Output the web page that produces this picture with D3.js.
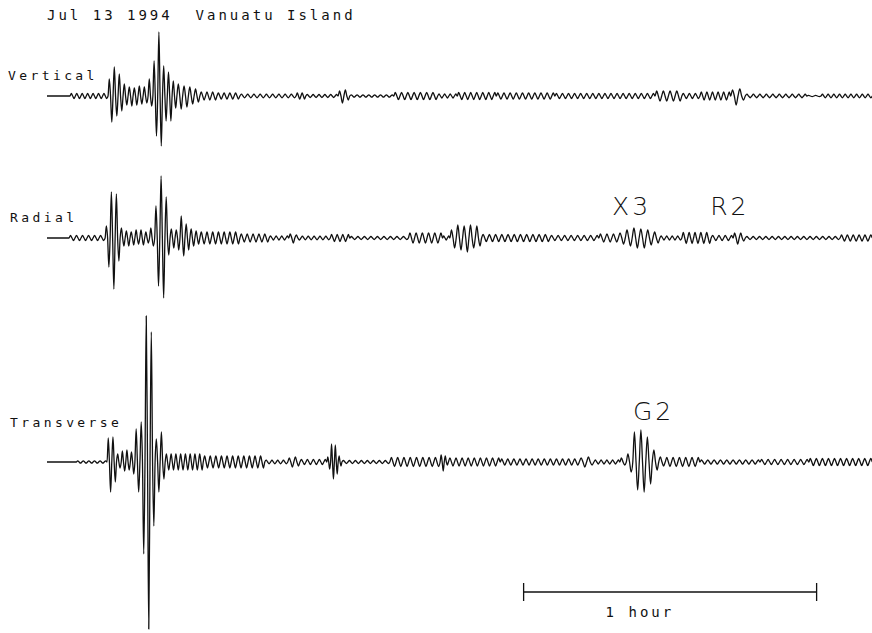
<!DOCTYPE html>
<html>
<head>
<meta charset="utf-8">
<script src="https://cdn.jsdelivr.net/npm/d3@7/dist/d3.min.js"></script>
<style>
body { margin: 0; background: #fff; }
text { fill: #111; }
.lbl { font-family: "DejaVu Sans Mono", monospace; font-size: 13px; letter-spacing: 3.4px; }
.big { font-family: "DejaVu Sans Mono", monospace; font-size: 14px; letter-spacing: 3.0px; }
.phase { font-family: "DejaVu Sans", sans-serif; font-weight: 200; font-size: 25px; letter-spacing: 3px; }
.trace { fill: none; stroke: #111; stroke-width: 1.3; stroke-linejoin: round; }
</style>
</head>
<body>
<div id="chart"></div>
<script>
// time in minutes after trace start, amplitude in plot units
// [start, end, amplitude, period] = steady wiggle, [start, end, [peaks]] = picked peaks
var components = ["Vertical", "Radial", "Transverse"];

var vertical = [
    [0, 4.7, 0, 1],
    [4.7, 12.5, 2.5, 1.1],
    [12.5, 16.6, [17, -26, 29, -20, 22, -15, 12, -9]],
    [16.6, 20.7, [9, -10, 8, -9, 10, -8, 9, -7]],
    [20.7, 26.6, [17, -10, 35, -40, 64, -50, 30, -25, 24, -25, 15, -12]],
    [26.6, 31.3, [12, -13, 10, -11, 9, -8, 7, -6]],
    [31.3, 34.8, 4, 1.1],
    [34.8, 39.5, 3, 1.2],
    [39.5, 51.0, 1.8, 1.25],
    [51.0, 53.0, 3, 1.0],
    [53.0, 59.6, 1.5, 1.2],
    [59.6, 62.0, [5, -7, 6, -4]],
    [62.0, 71.0, 1.2, 1.2],
    [71.0, 80.0, 3.5, 1.25],
    [80.0, 84.0, 2, 1.2],
    [84.0, 92.0, 3.5, 1.25],
    [92.0, 104.0, 3, 1.25],
    [104.0, 124.5, 2.5, 1.25],
    [124.5, 130.0, 5, 1.3],
    [130.0, 133.7, 2.5, 1.2],
    [133.7, 140.0, 4, 1.2],
    [140.0, 143.0, [6, -9, 7, -4]],
    [143.0, 155.6, 1.8, 1.3],
    [155.6, 158.5, 0.6, 1.3],
    [158.5, 169, 1.8, 1.2]
];

var radial = [
    [0, 4.5, 0, 1],
    [4.5, 11.9, 2.5, 1.2],
    [11.9, 16.0, [12, -29, 46, -51, 44, -23, 10, -8]],
    [16.0, 21.0, [7, -8, 6, -7, 8, -6, 8, -7, 6, -5]],
    [21.0, 25.2, [10, -8, 32, -48, 62, -60, 41, -17]],
    [25.2, 31.3, [9, -10, 8, -12, 22, -18, 14, -12, 9, -8, 7, -6]],
    [31.3, 39.5, 6, 1.15],
    [39.5, 45.5, 4, 1.25],
    [45.5, 49.5, 2, 1.2],
    [49.5, 52.0, [4, -5, 3, -2]],
    [52.0, 58.0, 1.8, 1.25],
    [58.0, 62.0, 3.5, 1.2],
    [62.0, 74.0, 1.5, 1.3],
    [74.0, 81.0, 5, 1.3],
    [81.0, 82.5, 2, 1.2],
    [82.5, 89.0, [8, -10, 13, -12, 12, -14, 13, -10, 12, -8]],
    [89.0, 103.0, 3.5, 1.3],
    [103.0, 113.0, 2.5, 1.3],
    [113.0, 117.0, 4, 1.3],
    [117.0, 125.5, [5, -6, 8, -8, 10, -10, 9, -10, 8, -7, 6, -5]],
    [125.5, 130.0, 2, 1.2],
    [130.0, 136.0, 5.5, 1.2],
    [136.0, 140.5, 2.5, 1.25],
    [140.5, 143.0, [5, -6, 5, -3]],
    [143.0, 162.4, 1.5, 1.3],
    [162.4, 169, 3, 1.2]
];

var transverse = [
    [0, 6.0, 0, 1],
    [6.0, 12.3, 1.2, 1.1],
    [12.3, 15.2, [24, -30, 25, -20, 8, -6]],
    [15.2, 18.0, [11, -9, 12, -8, 10, -12]],
    [18.0, 24.2, [33, -30, 40, -92, 146, -167, 130, -64, 23, -30, 30, -17]],
    [24.2, 32.0, 8, 1.0],
    [32.0, 44.6, 6, 1.15],
    [44.6, 49.3, 1.8, 1.2],
    [49.3, 51.8, [4, -5, 5, -4]],
    [51.8, 57.3, 2.5, 1.2],
    [57.3, 60.4, [5, -7, 18, -17, 17, -12, 6, -4]],
    [60.4, 70.2, 1.5, 1.2],
    [70.2, 80.5, 4.5, 1.25],
    [80.5, 82.2, [7, -9, 6, -3]],
    [82.2, 92.8, 4, 1.25],
    [92.8, 109.0, 3, 1.25],
    [109.0, 112.0, [4, -5, 5, -3]],
    [112.0, 117.3, 2, 1.2],
    [117.3, 126.6, [4, -3, 8, -10, 30, -28, 32, -30, 25, -22, 12, -8, 5, -4]],
    [126.6, 133.7, 4.5, 1.25],
    [133.7, 146.0, 2, 1.3],
    [146.0, 156.0, 2.5, 1.3],
    [156.0, 169, 3.5, 1.25]
];

var phaseNames = ["X3", "R2", "G2"];
var phaseTimes = [115.7, 135.8, 120.0];   // minutes, where the label starts
var phaseTrace = [1, 1, 2];
var scaleBar = [97.6, 157.6];            // one hour
var title = "Jul 13 1994  Vanuatu Island";

var width = 872, height = 633;
var x0 = 47;
var baseY = [96, 238, 462];
var labelY = [80, 222, 427];
var labelX = [8, 10, 10];
var phaseY = [215, 215, 420];

var svg = d3.select("#chart").append("svg")
    .attr("width", width)
    .attr("height", height);

// 1 hour = 293 px
var x = d3.scaleLinear()
    .domain([0, 60])
    .range([x0, x0 + 293]);

function buildPoints(segs) {
    var pts = [];
    segs.forEach(function(s) {
        var t0 = s[0], t1 = s[1], peaks;
        if (Array.isArray(s[2])) {
            peaks = s[2];
        } else {
            var n = Math.max(1, Math.round(2 * (t1 - t0) / s[3]));
            peaks = d3.range(n).map(function(i) { return i % 2 ? -s[2] : s[2]; });
        }
        var h = (t1 - t0) / peaks.length;
        peaks.forEach(function(v, i) {
            pts.push([t0 + i * h, 0]);
            pts.push([t0 + (i + 0.5) * h, v]);
        });
    });
    pts.push([segs[segs.length - 1][1], 0]);
    return pts;
}

var data = [vertical, radial, transverse];

data.forEach(function(segs, k) {
    var y = d3.scaleLinear()
        .domain([-100, 100])
        .range([baseY[k] + 100, baseY[k] - 100]);

    var line = d3.line()
        .x(function(d) { return x(d[0]); })
        .y(function(d) { return y(d[1]); })
        .curve(d3.curveMonotoneX);

    svg.append("path")
        .datum(buildPoints(segs))
        .attr("class", "trace")
        .attr("d", line);

    svg.append("text")
        .attr("class", "lbl")
        .attr("x", labelX[k])
        .attr("y", labelY[k])
        .text(components[k]);
});

// title
svg.append("text")
    .attr("class", "big")
    .attr("x", x0)
    .attr("y", 20)
    .attr("xml:space", "preserve")
    .style("white-space", "pre")
    .text(title);

// phase labels
phaseNames.forEach(function(p, i) {
    svg.append("text")
        .attr("class", "phase")
        .attr("x", x(phaseTimes[i]))
        .attr("y", phaseY[i])
        .text(p);
});

// scale bar
var barY = 592;
var bar = svg.append("g").attr("stroke", "#111").attr("stroke-width", 1.3);
bar.append("line")
    .attr("x1", x(scaleBar[0])).attr("x2", x(scaleBar[1]))
    .attr("y1", barY).attr("y2", barY);
scaleBar.forEach(function(t) {
    bar.append("line")
        .attr("x1", x(t)).attr("x2", x(t))
        .attr("y1", barY - 9).attr("y2", barY + 9);
});
svg.append("text")
    .attr("class", "big")
    .attr("x", x(scaleBar[0]) + 82)
    .attr("y", barY + 25)
    .text("1 hour");
</script>
</body>
</html>
